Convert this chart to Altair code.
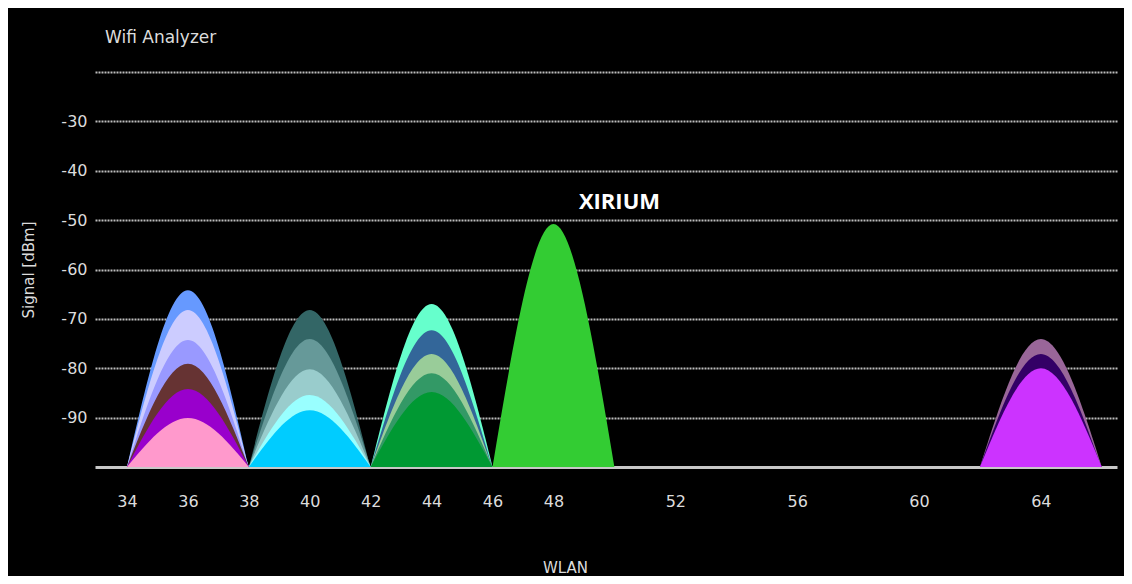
import altair as alt
import pandas as pd

# ---- data ----
channels = [36, 36, 36, 36, 36, 36,
            40, 40, 40, 40, 40,
            44, 44, 44, 44, 44,
            48,
            64, 64, 64]
signals = [-64.2, -68.2, -74.3, -79.1, -84.2, -90.1,
           -68.2, -74.1, -80.2, -85.4, -88.5,
           -67.0, -72.3, -77.1, -81.0, -84.8,
           -50.8,
           -74.1, -77.1, -80.0]
colors = ["#6699ff", "#ccccff", "#9999ff", "#663333", "#9900cc", "#ff99cc",
          "#336666", "#669999", "#99cccc", "#99ffff", "#00ccff",
          "#66ffcc", "#336699", "#99cc99", "#339966", "#009933",
          "#33cc33",
          "#996699", "#330066", "#cc33ff"]
ssids = [""] * 16 + ["XIRIUM"] + [""] * 3
x_ticks = [34, 36, 38, 40, 42, 44, 46, 48, 52, 56, 60, 64]
y_ticks = [-90, -80, -70, -60, -50, -40, -30, -20]
FLOOR = -100          # noise floor, dBm
HALF_WIDTH = 2        # a 20 MHz channel spans +/- 2 channel numbers

rows = []
for i, (ch, s) in enumerate(zip(channels, signals)):
    rows.append({"net": i, "channel": ch - HALF_WIDTH, "signal": FLOOR, "floor": FLOOR})
    rows.append({"net": i, "channel": ch, "signal": s, "floor": FLOOR})
    rows.append({"net": i, "channel": ch + HALF_WIDTH, "signal": FLOOR, "floor": FLOOR})
df = pd.DataFrame(rows)

labels_df = pd.DataFrame({"channel": [c for c, n in zip(channels, ssids) if n],
                          "signal": [s for s, n in zip(signals, ssids) if n],
                          "ssid": [n for n in ssids if n]})

FONT = "DejaVu Sans"
TXT = "#dcdcdc"

x_enc = alt.X("channel:Q",
              scale=alt.Scale(domain=[32.95, 66.5], nice=False, zero=False),
              axis=alt.Axis(values=x_ticks, labelExpr="'' + datum.value",
                            grid=False, ticks=False, tickSize=0,
                            domain=True, domainColor="#c8c8c8", domainWidth=3,
                            labelPadding=26, labelColor=TXT, labelFont=FONT,
                            labelFontSize=16, title="WLAN", titleColor=TXT,
                            titleFont=FONT, titleFontSize=15, titleFontWeight="normal",
                            titleX=470, titleY=100, titleBaseline="middle",
                            titleAlign="center"))
y_enc = alt.Y("signal:Q", stack=False,
              scale=alt.Scale(domain=[-100, -20], nice=False, zero=False),
              axis=alt.Axis(values=y_ticks,
                            labelExpr="datum.value == -20 ? '' : '' + datum.value",
                            grid=True, gridDash=[2, 1], gridColor="#bdbdbd", gridWidth=2,
                            domain=False, ticks=False, tickSize=0, labelPadding=8,
                            labelColor=TXT, labelFont=FONT, labelFontSize=16,
                            title="Signal [dBm]", titleColor=TXT, titleFont=FONT,
                            titleFontSize=15, titleFontWeight="normal",
                            titleX=-67, titleY=197.5, titleAngle=270,
                            titleAlign="center", titleBaseline="middle"))

layers = []
for i, col in enumerate(colors):
    layers.append(
        alt.Chart(df).transform_filter(alt.datum.net == i)
        .mark_area(interpolate="monotone", color=col, opacity=1)
        .encode(x=x_enc, y=y_enc, y2=alt.Y2("floor:Q"))
    )

text = alt.Chart(labels_df).mark_text(
    font="Open Sans", fontWeight="bold", fontSize=22, color="white",
    align="center", baseline="middle", dx=66, dy=-22
).encode(x=x_enc, y=y_enc, text="ssid:N")

chart = alt.layer(*layers, text).properties(
    width=1022, height=395,
    autosize=alt.AutoSizeParams(type="none"),
    padding={"left": 87, "top": 64, "right": 7, "bottom": 109},
    background="black",
    title=alt.TitleParams("Wifi Analyzer", anchor="start", frame="group", dx=10,
                          offset=12, baseline="alphabetic", font=FONT, fontSize=17,
                          fontWeight="normal", color=TXT),
).configure_view(stroke="transparent")

chart.save("out.html", embed_options={"renderer": "svg", "actions": False})
